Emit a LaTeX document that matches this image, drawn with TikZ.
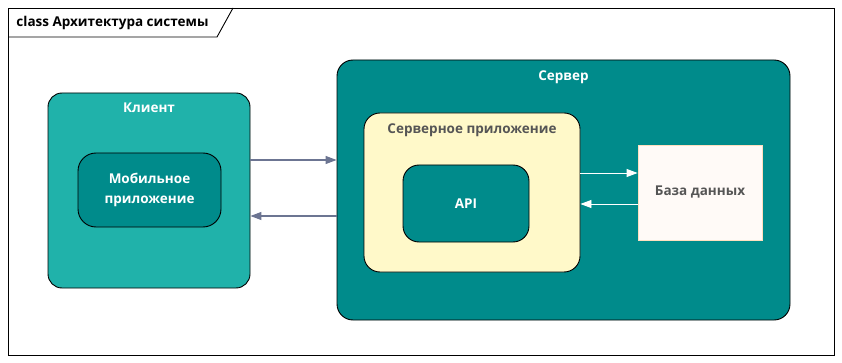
\documentclass[tikz,border=0pt]{standalone}
\usepackage{fontspec}
\setmainfont{Open Sans}
\usetikzlibrary{arrows.meta, positioning}

\definecolor{klient}{HTML}{20B2AA}
\definecolor{server}{HTML}{008B8B}
\definecolor{prilozh}{HTML}{FFF9C9}
\definecolor{baza}{HTML}{FFFAF7}
\definecolor{svyaz}{HTML}{6C7592}
\definecolor{tekst}{HTML}{555555}

\begin{document}
\begin{tikzpicture}[x=1pt, y=-1pt, font=\bfseries\fontsize{13.5}{20}\selectfont, align=center, line width=0.9pt]
    \useasboundingbox (0,0) rectangle (842,363);
    % frame with the title tab
    \draw [fill=white] (8,8) rectangle (834,355);
    \draw (8,37) -- (217,37) -- (233,8);
    \node [anchor=base west, inner sep=0pt] (ramka) at (16,27) {class Архитектура системы};

    % client side
    \node [draw, rectangle, rounded corners=14pt, fill=klient, minimum width=202pt, minimum height=195pt] (klient) at (149,190.5) {};
    \node [text=white, anchor=base, inner sep=0pt] (klientTitle) at ([yshift=-20pt]klient.north) {Клиент};
    \node [draw, rectangle, rounded corners=18pt, fill=server, text=white, minimum width=143pt, minimum height=74pt] (mobil) at (149.5,190) {Мобильное\\приложение};

    % server side
    \node [draw, rectangle, rounded corners=16pt, fill=server, minimum width=453pt, minimum height=260pt] (server) at (563.5,190) {};
    \node [text=white, anchor=base, inner sep=0pt] (serverTitle) at ([yshift=-21pt]server.north) {Сервер};
    \node [draw, rectangle, rounded corners=16pt, fill=prilozh, minimum width=216pt, minimum height=159pt] (prilozh) at (472,192.5) {};
    \node [text=tekst, anchor=base, inner sep=0pt] (prilozhTitle) at ([yshift=-21pt]prilozh.north) {Серверное приложение};
    \node [draw, rectangle, rounded corners=16pt, fill=server, text=white, minimum width=126pt, minimum height=77pt] (api) at (466,203.5) {API};
    \node [draw=orange!25, rectangle, fill=baza, text=tekst, minimum width=124pt, minimum height=95pt] (baza) at (700,192.5) {База данных};

    % connections
    \draw [-{Triangle[length=11pt, width=8pt]}, svyaz, line width=1.2pt] (klient.east |- 0,160) -- (server.west |- 0,160);
    \draw [-{Triangle[length=11pt, width=8pt]}, svyaz, line width=1.2pt] (server.west |- 0,216) -- (klient.east |- 0,216);
    \draw [-{Triangle[length=11pt, width=8pt]}, white] (prilozh.east |- 0,173) -- (baza.west |- 0,173);
    \draw [-{Triangle[length=11pt, width=8pt]}, white] (baza.west |- 0,204) -- (prilozh.east |- 0,204);
  \end{tikzpicture}
\end{document}
